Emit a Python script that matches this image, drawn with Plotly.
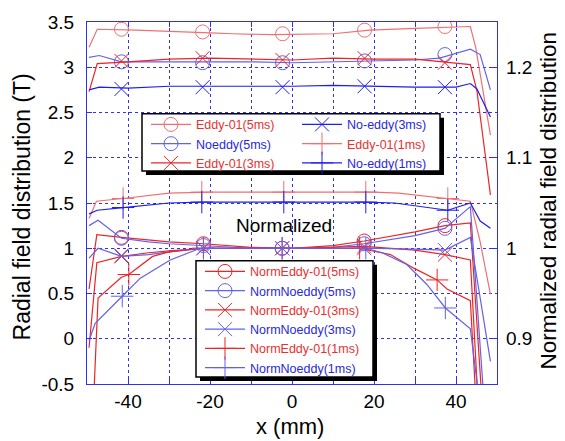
import plotly.graph_objects as go

# ---------------- data ----------------
# Absolute radial field (left axis, T)
eddy5_x = [-49.5, -47.5, -38, -30, -20, -14.5, -5, 10, 19, 30, 43.5, 44.8, 48.4]
eddy5_y = [3.22, 3.42, 3.41, 3.40, 3.38, 3.37, 3.36, 3.37, 3.41, 3.43, 3.45, 3.22, 2.25]
eddy5_mx = [-41.6, -21.8, -2.3, 17.7, 37.3]
eddy5_my = [3.42, 3.39, 3.37, 3.41, 3.45]

noeddy5_x = [-49.5, -47, -41.6, -30, -20, -10, 0, 10, 20, 30, 36, 43.5, 45.9, 48.4]
noeddy5_y = [3.11, 3.13, 3.06, 3.06, 3.06, 3.06, 3.05, 3.06, 3.07, 3.08, 3.10, 3.20, 3.14, 2.75]
noeddy5_mx = [-41.6, -21.8, -2.3, 17.7, 37.3]
noeddy5_my = [3.06, 3.05, 3.05, 3.07, 3.14]

eddy3_x = [-49.5, -47.5, -40, -30, -20, -10, 0, 10, 20, 30, 40, 43.5, 45.1, 48.4]
eddy3_y = [2.73, 3.04, 3.06, 3.09, 3.10, 3.09, 3.08, 3.10, 3.09, 3.09, 3.05, 3.03, 2.74, 1.59]
eddy3_mx = [-41.6, -21.8, -2.3, 17.7, 37.3]
eddy3_my = [3.07, 3.10, 3.08, 3.10, 3.05]

noeddy3_x = [-49.5, -47, -40, -30, -20, -10, 0, 10, 20, 30, 40, 43.5, 45.1, 48.4]
noeddy3_y = [2.75, 2.78, 2.77, 2.79, 2.79, 2.79, 2.79, 2.80, 2.79, 2.78, 2.78, 2.82, 2.76, 2.45]
noeddy3_mx = [-41.6, -21.8, -2.3, 17.7, 37.3]
noeddy3_my = [2.76, 2.78, 2.78, 2.79, 2.78]

eddy1_x = [-49.5, -47.7, -41.2, -35, -30, -20, 0, 20, 26, 32, 38, 43.5, 45.9, 48.4]
eddy1_y = [1.33, 1.52, 1.55, 1.58, 1.61, 1.62, 1.62, 1.62, 1.61, 1.58, 1.55, 1.52, 1.07, 0.49]
eddy1_mx = [-41.2, -22, -2, 18, 38]
eddy1_my = [1.55, 1.62, 1.62, 1.62, 1.55]

noeddy1_x = [-49.5, -47.5, -41.2, -35, -30, -22, 0, 18, 25, 32, 38, 43.5, 45.9, 48.4]
noeddy1_y = [1.38, 1.42, 1.45, 1.48, 1.50, 1.51, 1.51, 1.51, 1.50, 1.46, 1.42, 1.50, 1.30, 1.22]
noeddy1_mx = [-41.2, -22, -2, 18, 38]
noeddy1_my = [1.45, 1.51, 1.51, 1.51, 1.42]

# Normalized radial field (right axis)
neddy5_x = [-49.5, -47.6, -41.6, -35, -30, -21.6, -10, 0, 10, 17.6, 25, 30, 37.3, 43.5, 46.5]
neddy5_y = [0.955, 1.015, 1.012, 1.009, 1.007, 1.005, 1.001, 1.000, 1.003, 1.008, 1.014, 1.018, 1.025, 1.028, 0.82]
neddy5_mx = [-41.6, -21.6, -2.4, 17.6, 37.3]
neddy5_my = [1.012, 1.005, 1.000, 1.008, 1.025]

nnoeddy5_x = [-49.5, -47.3, -41.6, -35, -30, -21.6, -10, 0, 10, 17.6, 25, 30, 37.3, 43.5, 47]
nnoeddy5_y = [1.025, 1.031, 1.011, 1.007, 1.005, 1.003, 1.000, 1.000, 1.001, 1.005, 1.010, 1.014, 1.022, 1.046, 0.82]
nnoeddy5_mx = [-41.6, -21.6, -2.4, 17.6, 37.3]
nnoeddy5_my = [1.011, 1.003, 1.000, 1.005, 1.022]

neddy3_x = [-49.5, -47.6, -41.6, -35, -30, -21.6, 0, 10, 17.6, 30, 37.3, 43.5, 45.5]
neddy3_y = [0.890, 0.984, 0.991, 0.995, 0.997, 1.000, 1.000, 1.001, 1.002, 0.998, 0.993, 0.987, 0.82]
neddy3_mx = [-41.6, -21.6, -2.4, 17.6, 37.3]
neddy3_my = [0.991, 1.000, 1.000, 1.002, 0.993]

nnoeddy3_x = [-49.5, -47.3, -41.6, -35, -30, -21.6, 0, 17.6, 30, 37.3, 43.5, 48.4]
nnoeddy3_y = [0.989, 1.000, 0.991, 0.993, 0.996, 1.000, 1.000, 1.000, 0.999, 0.998, 1.012, 0.875]
nnoeddy3_mx = [-41.6, -21.6, -2.4, 17.6, 37.3]
nnoeddy3_my = [0.992, 1.000, 1.000, 1.000, 0.998]

neddy1_x = [-48.5, -47.3, -41.6, -39.8, -34, -30, -21.6, 0, 16.5, 24, 29.7, 35.4, 37.8, 43.5, 45]
neddy1_y = [0.82, 0.945, 0.968, 0.971, 0.991, 0.996, 1.000, 1.000, 1.000, 0.993, 0.978, 0.965, 0.955, 0.942, 0.82]
neddy1_mx = [-39.8, -21.6, -2.4, 16.5, 35.4]
neddy1_my = [0.971, 1.000, 1.000, 1.000, 0.965]

nnoeddy1_x = [-49.5, -48, -41.4, -37, -29.7, -22.4, 0, 18, 22, 28, 32.9, 37.4, 43.5, 46]
nnoeddy1_y = [0.898, 0.917, 0.947, 0.967, 0.987, 1.000, 1.000, 1.000, 0.995, 0.982, 0.960, 0.934, 0.911, 0.82]
nnoeddy1_mx = [-41.4, -21.6, -2.4, 18, 37.4]
nnoeddy1_my = [0.947, 1.000, 1.000, 1.000, 0.934]

x_tickvals = [-40, -30, -20, -10, 0, 10, 20, 30, 40]
x_ticktext = ["-40", "", "-20", "", "0", "", "20", "", "40"]
y_tickvals = [-0.5, 0, 0.5, 1, 1.5, 2, 2.5, 3, 3.5]
y_ticktext = ["-0.5", "0", "0.5", "1", "1.5", "2", "2.5", "3", "3.5"]
y2_tickvals = [0.9, 1.0, 1.1, 1.2]
y2_ticktext = ["0.9", "1", "1.1", "1.2"]

# ---------------- styling ----------------
RED = "#ee2424"
RED_L = "#f07070"
BLUE = "#1e1ef0"
BLUE_L = "#6262ee"
TXT_RED = "#e83030"
TXT_BLUE = "#2828e0"
FONT = "Liberation Sans"
FRAME = "#3030f0"

W, H = 565, 441
L, R, T, B = 87, 68, 17, 57
PW, PH = W - L - R, H - T - B


def px_x(p):
    return (p - L) / PW


def px_y(p):
    return (H - B - p) / PH


fig = go.Figure()

series = [
    ("Eddy-01(5ms)", eddy5_x, eddy5_y, eddy5_mx, eddy5_my, RED_L, "circle-open", 14, "y", "legend", TXT_RED),
    ("Noeddy(5ms)", noeddy5_x, noeddy5_y, noeddy5_mx, noeddy5_my, BLUE_L, "circle-open", 14, "y", "legend", TXT_BLUE),
    ("Eddy-01(3ms)", eddy3_x, eddy3_y, eddy3_mx, eddy3_my, RED, "x-thin-open", 14, "y", "legend", TXT_RED),
    ("No-eddy(3ms)", noeddy3_x, noeddy3_y, noeddy3_mx, noeddy3_my, BLUE, "x-thin-open", 14, "y", "legend2", TXT_BLUE),
    ("Eddy-01(1ms)", eddy1_x, eddy1_y, eddy1_mx, eddy1_my, RED_L, "cross-thin-open", 16, "y", "legend2", TXT_RED),
    ("No-eddy(1ms)", noeddy1_x, noeddy1_y, noeddy1_mx, noeddy1_my, BLUE, "cross-thin-open", 16, "y", "legend2", TXT_BLUE),
    ("NormEddy-01(5ms)", neddy5_x, neddy5_y, neddy5_mx, neddy5_my, RED, "circle-open", 14, "y2", "legend3", TXT_RED),
    ("NormNoeddy(5ms)", nnoeddy5_x, nnoeddy5_y, nnoeddy5_mx, nnoeddy5_my, BLUE_L, "circle-open", 14, "y2", "legend3", TXT_BLUE),
    ("NormEddy-01(3ms)", neddy3_x, neddy3_y, neddy3_mx, neddy3_my, RED, "x-thin-open", 14, "y2", "legend3", TXT_RED),
    ("NormNoeddy(3ms)", nnoeddy3_x, nnoeddy3_y, nnoeddy3_mx, nnoeddy3_my, BLUE_L, "x-thin-open", 14, "y2", "legend3", TXT_BLUE),
    ("NormEddy-01(1ms)", neddy1_x, neddy1_y, neddy1_mx, neddy1_my, RED, "cross-thin-open", 16, "y2", "legend3", TXT_RED),
    ("NormNoeddy(1ms)", nnoeddy1_x, nnoeddy1_y, nnoeddy1_mx, nnoeddy1_my, BLUE_L, "cross-thin-open", 16, "y2", "legend3", TXT_BLUE),
]

for name, x, y, mx, my, col, sym, ms, ax, leg, tcol in series:
    fig.add_trace(go.Scatter(x=x, y=y, mode="lines", yaxis=ax, showlegend=False,
                             line=dict(color=col, width=1.2), hoverinfo="skip"))
    fig.add_trace(go.Scatter(x=mx, y=my, mode="markers", yaxis=ax, showlegend=False,
                             marker=dict(symbol=sym, size=ms, color=col, line=dict(color=col, width=1))))
    fig.add_trace(go.Scatter(x=[None], y=[None], mode="lines+markers", yaxis=ax, legend=leg,
                             name=f"<span style='color:{tcol}'>{name}</span>",
                             line=dict(color=col, width=1.2),
                             marker=dict(symbol=sym, size=ms, color=col, line=dict(color=col, width=1))))

shapes = []
for (x0, y0, x1, y1) in [(142, 110, 440, 168), (196, 259, 373, 377)]:
    shapes.append(dict(type="rect", xref="paper", yref="paper", layer="above",
                       x0=px_x(x0 + 4), x1=px_x(x1 + 4), y0=px_y(y1 + 4), y1=px_y(y0 + 4),
                       fillcolor="black", line=dict(width=0)))
    shapes.append(dict(type="rect", xref="paper", yref="paper", layer="above",
                       x0=px_x(x0), x1=px_x(x1), y0=px_y(y1), y1=px_y(y0),
                       fillcolor="white", line=dict(color="black", width=1.5)))

leg_common = dict(bgcolor="rgba(0,0,0,0)", borderwidth=0, itemwidth=40,
                  font=dict(family=FONT, size=12.5, color="black"),
                  xanchor="left", yanchor="top", xref="paper", yref="paper",
                  tracegroupgap=0, itemclick=False, itemdoubleclick=False)

axis_font = dict(family=FONT, size=19, color="black")

fig.update_layout(
    width=W, height=H,
    margin=dict(l=L, r=R, t=T, b=B, pad=0),
    paper_bgcolor="white", plot_bgcolor="white",
    font=dict(family=FONT, color="black"),
    shapes=shapes,
    legend=dict(x=px_x(146), y=px_y(106), **leg_common),
    legend2=dict(x=px_x(297), y=px_y(106), **leg_common),
    legend3=dict(x=px_x(200), y=px_y(255), **leg_common),
    xaxis=dict(range=[-50, 50], tickvals=x_tickvals, ticktext=x_ticktext,
               showline=True, linecolor=FRAME, linewidth=1, mirror="ticks",
               ticks="inside", ticklen=5, tickcolor=FRAME,
               showgrid=True, gridcolor=FRAME, griddash="dot", gridwidth=1,
               zeroline=False, tickfont=axis_font),
    yaxis=dict(range=[-0.5, 3.5], tickvals=y_tickvals, ticktext=y_ticktext,
               showline=True, linecolor=FRAME, linewidth=1, mirror=True,
               ticks="inside", ticklen=5, tickcolor=FRAME,
               showgrid=True, gridcolor=FRAME, griddash="dot", gridwidth=1,
               zeroline=False, tickfont=axis_font, ticklabelstandoff=8),
    yaxis2=dict(range=[0.85, 1.25], tickvals=y2_tickvals, ticktext=y2_ticktext,
                overlaying="y", side="right", showgrid=False, zeroline=False,
                ticks="inside", ticklen=6, tickcolor=FRAME, showline=False,
                tickfont=axis_font, ticklabelstandoff=8),
    annotations=[
        dict(text="Radial field distribution (T)", xref="paper", yref="paper",
             x=px_x(22), y=px_y(205), textangle=-90, showarrow=False,
             xanchor="center", yanchor="middle", font=dict(family=FONT, size=23, color="black")),
        dict(text="Normalized radial field distribution", xref="paper", yref="paper",
             x=px_x(549), y=px_y(198), textangle=-90, showarrow=False,
             xanchor="center", yanchor="middle", font=dict(family=FONT, size=22.5, color="black")),
        dict(text="x (mm)", xref="paper", yref="paper",
             x=px_x(290), y=px_y(427), showarrow=False,
             xanchor="center", yanchor="middle", font=dict(family=FONT, size=22, color="black")),
        dict(text="Normalized", xref="paper", yref="paper",
             x=px_x(284), y=px_y(223), showarrow=False,
             xanchor="center", yanchor="middle", font=dict(family=FONT, size=19, color="black")),
    ],
)

fig.write_html("out.html")
